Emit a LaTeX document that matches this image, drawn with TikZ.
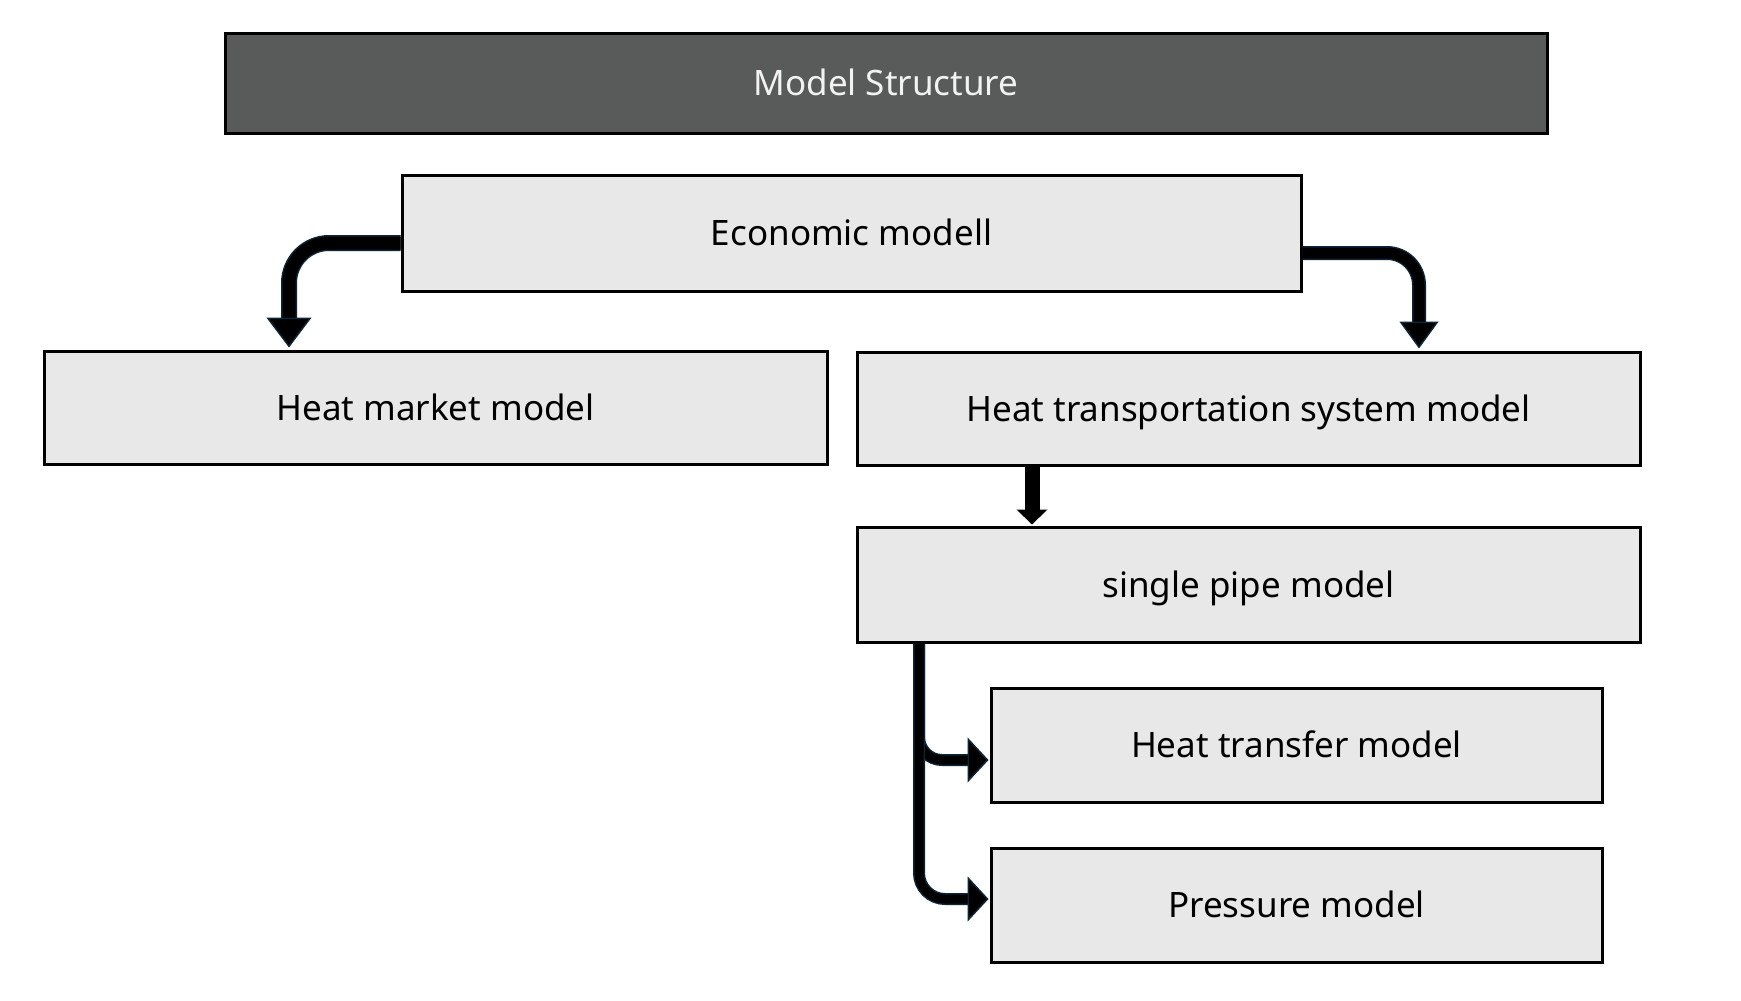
\documentclass[tikz,border=0pt]{standalone}
\usepackage{fontspec}
\setmainfont{Noto Sans}
\usetikzlibrary{arrows.meta}
\definecolor{darkbox}{HTML}{595B5A}
\definecolor{lightbox}{HTML}{E8E8E8}
\definecolor{edgeblue}{HTML}{0D2537}
\definecolor{titletext}{HTML}{F2F2F2}
\tikzset{
  boxbase/.style={draw=black, line width=3pt, inner sep=0pt, font=\fontsize{35}{42}\selectfont, text height=25pt, text depth=0pt},
  lbox/.style={boxbase, fill=lightbox, text=black},
  dbox/.style={boxbase, fill=darkbox, text=titletext},
  arr/.style n args={5}{line width=#1, draw=black, rounded corners=#5,
    -{Triangle[length=#3, width=#4, fill=black, color=edgeblue, line width=1.5pt]},
    preaction={draw=edgeblue, line width=#2, arrows=-, shorten >=#3}},
  plainarr/.style n args={3}{line width=#1, draw=black,
    -{Triangle[length=#2, width=#3, fill=black, color=black, line width=0pt]}}
}
\begin{document}
\begin{tikzpicture}[x=1pt,y=-1pt]
\useasboundingbox[fill=white] (0,0) rectangle (1741,1001);
\node[dbox, minimum width=1322pt, minimum height=100pt] (title) at (886,83) {Model Structure};
\node[lbox, minimum width=899pt, minimum height=116pt] (econ) at (851.5,233) {Economic modell};
\node[lbox, minimum width=783pt, minimum height=113pt] (market) at (435.5,407.5) {Heat market model};
\node[lbox, minimum width=783pt, minimum height=113pt] (transport) at (1248.5,408.5) {Heat transportation system model};
\node[lbox, minimum width=783pt, minimum height=115pt] (pipe) at (1248.5,584.5) {single pipe model};
\node[lbox, minimum width=611pt, minimum height=114pt] (transfer) at (1296.5,745) {Heat transfer model};
\node[lbox, minimum width=611pt, minimum height=114pt] (pressure) at (1296.5,905) {Pressure model};

\draw[arr={13pt}{16pt}{30pt}{45pt}{40pt}, shorten >=2pt] ([yshift=-10pt]econ.west) -| ([xshift=-146.5pt]market.north);
\draw[arr={11pt}{14pt}{27pt}{39pt}{32pt}, shorten >=2pt] ([yshift=-20pt]econ.east) -| ([xshift=170.5pt]transport.north);
\draw[plainarr={15pt}{15pt}{31pt}, shorten >=1pt] ([xshift=-216.5pt]transport.south) -- ([xshift=-216.5pt]pipe.north);
\draw[arr={9pt}{12pt}{21pt}{45pt}{23pt}, shorten >=1pt] ([xshift=-329.5pt]pipe.south) |- ([yshift=-15pt]transfer.west);
\draw[arr={9pt}{12pt}{21pt}{45pt}{26pt}, shorten >=1pt] ([xshift=-329.5pt]pipe.south) |- ([yshift=6pt]pressure.west);
\end{tikzpicture}
\end{document}
